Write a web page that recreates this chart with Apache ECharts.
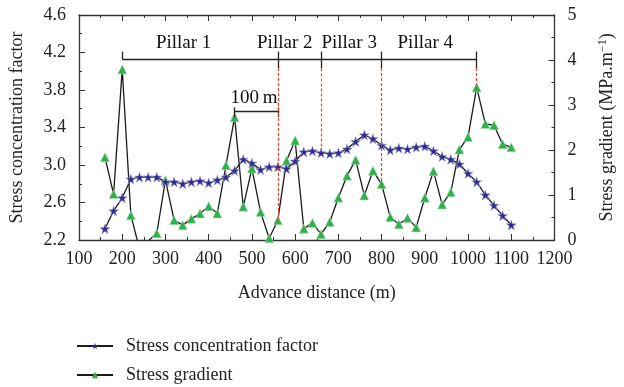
<!DOCTYPE html>
<html>
<head>
<meta charset="utf-8">
<script src="https://cdn.jsdelivr.net/npm/echarts@6/dist/echarts.min.js"></script>
<style>
  html, body { margin: 0; padding: 0; background: #fff; }
  #chart { width: 624px; height: 387px; }
</style>
</head>
<body>
<div id="chart"></div>
<script>
// advance distance (m)
const distance = [160, 180, 200, 220, 240, 260, 280, 300, 320, 340, 360, 380, 400, 420, 440, 460,
  480, 500, 520, 540, 560, 580, 600, 620, 640, 660, 680, 700, 720, 740, 760, 780,
  800, 820, 840, 860, 880, 900, 920, 940, 960, 980, 1000, 1020, 1040, 1060, 1080, 1100]

const concFactor = [2.32, 2.51, 2.65, 2.85, 2.87, 2.87, 2.87, 2.82, 2.82, 2.80, 2.82, 2.83, 2.81, 2.84, 2.87, 2.94,
  3.06, 3.02, 2.95, 2.98, 2.98, 2.96, 3.04, 3.14, 3.15, 3.13, 3.12, 3.13, 3.17, 3.25, 3.32, 3.28,
  3.21, 3.16, 3.18, 3.17, 3.19, 3.20, 3.15, 3.09, 3.06, 3.01, 2.91, 2.82, 2.68, 2.57, 2.46, 2.36]

const stressGradient = [1.84, 1.02, 3.79, 0.55, -0.2, -0.02, 0.15, 1.33, 0.44, 0.33, 0.47, 0.59, 0.75, 0.59, 1.66, 2.73,
  0.74, 1.59, 0.62, 0.04, 0.44, 1.76, 2.21, 0.25, 0.38, 0.13, 0.40, 0.94, 1.43, 1.78, 0.99, 1.54,
  1.24, 0.51, 0.35, 0.49, 0.28, 0.94, 1.53, 0.79, 1.06, 2.01, 2.29, 3.39, 2.58, 2.55, 2.13, 2.06]

const leftTicks = [2.2, 2.6, 3.0, 3.4, 3.8, 4.2, 4.6]
const leftMinorTicks = [2.4, 2.8, 3.2, 3.6, 4.0, 4.4]

// pillar boundaries and labels
const pillarBounds = [200, 560, 660, 800, 1020]
const pillarNames = ["Pillar 1", "Pillar 2", "Pillar 3", "Pillar 4"]
const pillarLabelX = [342, 576, 725, 901]
const pillarLabelY = 4.3
const bracketY = 4.13
const bracketTop = 4.21
const bracketBottom = 4.03
const dashTopGradient = 3.82

// 100 m scale bar
const scaleBar = [460, 560]
const scaleBarY = 3.57
const scaleLabel = { x: 505, y: 3.71, text: "100\u2009m" }

const FONT = "Liberation Serif"
const AXIS_COLOR = "#333"

const chart = echarts.init(document.getElementById("chart"), null, { renderer: "canvas" })

const idx = (x) => distance.indexOf(x)

// bracket + scale bar lines (left axis units)
const blackLine = { color: "#222", width: 1.3, type: "solid" }
const redDash = { color: "#f0402a", width: 1.2, type: [3, 2] }
const leftMarks = [
  [{ coord: [pillarBounds[0], bracketY] }, { coord: [pillarBounds[4], bracketY] }],
  [{ coord: [pillarBounds[0], bracketTop] }, { coord: [pillarBounds[0], bracketY] }],
]
pillarBounds.slice(1).forEach((x) => {
  leftMarks.push([{ coord: [x, bracketTop] }, { coord: [x, bracketBottom] }])
})
leftMarks.push([{ coord: [scaleBar[0], scaleBarY] }, { coord: [scaleBar[1], scaleBarY] }])
leftMarks.push([{ coord: [scaleBar[0], scaleBarY + 0.045] }, { coord: [scaleBar[0], scaleBarY - 0.06] }])
leftMarks.push([{ coord: [scaleBar[1], scaleBarY + 0.045] }, { coord: [scaleBar[1], scaleBarY - 0.06] }])
leftMarks.forEach((m) => { m[0].lineStyle = blackLine })
// red dashed line at 660 ends on the factor curve
leftMarks.push([
  { coord: [660, bracketBottom], lineStyle: redDash },
  { coord: [660, concFactor[idx(660)]] },
])

// red dashed lines ending on the gradient curve
const rightMarks = [560, 800, 1020].map((x) => [
  { coord: [x, dashTopGradient], lineStyle: redDash },
  { coord: [x, stressGradient[idx(x)]] },
])

const textStyle = { fontFamily: FONT, fontSize: 18, color: "#222" }

const starPath = "path://M50,0 L61.8,35.1 L98.9,35.1 L69.1,56.7 L80.3,91.9 L50,70.2 L19.7,91.9 L30.9,56.7 L1.1,35.1 L38.2,35.1 Z"

const option = {
  animation: false,
  backgroundColor: "#fff",
  grid: { left: 77, right: 61, top: 15, bottom: 147 },
  legend: {
    orient: "vertical",
    left: 76,
    top: 337,
    height: 60,
    padding: 0,
    itemWidth: 36,
    itemHeight: 8,
    itemGap: 11,
    data: [
      { name: "Stress concentration factor", itemStyle: { color: "#2f2c8f", borderWidth: 0 } },
      { name: "Stress gradient", itemStyle: { color: "#2fb04a", borderWidth: 0 } },
    ],
    textStyle: { ...textStyle, padding: [0, 0, 0, 8] },
  },
  xAxis: [
    {
      type: "value",
      min: 100,
      max: 1200,
      interval: 100,
      name: "Advance distance (m)",
      nameLocation: "middle",
      nameGap: 44,
      nameTextStyle: textStyle,
      axisLine: { lineStyle: { color: AXIS_COLOR, width: 1.3 } },
      axisTick: { inside: true, length: 6, lineStyle: { color: AXIS_COLOR } },
      minorTick: { show: true, splitNumber: 2, length: 3, lineStyle: { color: AXIS_COLOR } },
      axisLabel: { ...textStyle, margin: 10, formatter: (v) => String(v) },
      splitLine: { show: false },
    },
    {
      type: "value",
      position: "top",
      min: 100,
      max: 1200,
      interval: 100,
      axisLine: { lineStyle: { color: AXIS_COLOR, width: 1.3 } },
      axisTick: { inside: true, length: 6, lineStyle: { color: AXIS_COLOR } },
      minorTick: { show: true, splitNumber: 2, length: 3, lineStyle: { color: AXIS_COLOR } },
      axisLabel: { show: false },
      splitLine: { show: false },
    },
  ],
  yAxis: [
    {
      type: "value",
      min: 2.2,
      max: 4.6,
      name: "Stress concentration factor",
      nameLocation: "middle",
      nameGap: 53,
      nameTextStyle: textStyle,
      axisLine: { show: true, lineStyle: { color: AXIS_COLOR, width: 1.3 } },
      axisTick: { inside: true, length: 6, customValues: leftTicks, lineStyle: { color: AXIS_COLOR } },
      axisLabel: { ...textStyle, margin: 13, customValues: leftTicks, formatter: (v) => v.toFixed(1) },
      splitLine: { show: false },
    },
    {
      type: "value",
      position: "right",
      min: 0,
      max: 5,
      interval: 1,
      name: "Stress gradient (MPa.m{sup|\u22121})",
      nameLocation: "middle",
      nameGap: 42,
      nameTextStyle: {
        ...textStyle,
        rich: { sup: { fontFamily: FONT, fontSize: 12, color: "#222", padding: [0, 0, 9, 0] } },
      },
      axisLine: { show: true, lineStyle: { color: AXIS_COLOR, width: 1.3 } },
      axisTick: { inside: true, length: 6, lineStyle: { color: AXIS_COLOR } },
      minorTick: { show: true, splitNumber: 2, length: 3, lineStyle: { color: AXIS_COLOR } },
      axisLabel: { ...textStyle, margin: 13 },
      splitLine: { show: false },
    },
    {
      // minor ticks for the left axis
      type: "value",
      position: "left",
      min: 2.2,
      max: 4.6,
      axisLine: { show: false },
      axisTick: { show: true, inside: true, length: 3, customValues: leftMinorTicks, lineStyle: { color: AXIS_COLOR } },
      axisLabel: { show: false },
      splitLine: { show: false },
    },
  ],
  series: [
    {
      name: "Stress concentration factor",
      type: "line",
      xAxisIndex: 0,
      yAxisIndex: 0,
      data: distance.map((x, i) => [x, concFactor[i]]),
      symbol: starPath,
      symbolSize: 10,
      lineStyle: { color: "#1a1a1a", width: 1.3 },
      itemStyle: { color: "#2f2c8f", borderColor: "#a7a5d8", borderWidth: 0.6 },
      markLine: { silent: true, symbol: "none", label: { show: false }, data: leftMarks },
      z: 3,
    },
    {
      name: "Stress gradient",
      type: "line",
      xAxisIndex: 0,
      yAxisIndex: 1,
      data: distance.map((x, i) => [x, stressGradient[i]]),
      symbol: "triangle",
      symbolSize: 9,
      lineStyle: { color: "#1a1a1a", width: 1.3 },
      itemStyle: { color: "#2fb04a", borderColor: "#a8dcb0", borderWidth: 0.6 },
      markLine: { silent: true, symbol: "none", label: { show: false }, data: rightMarks },
      z: 2,
    },
    {
      name: "labels",
      type: "scatter",
      xAxisIndex: 0,
      yAxisIndex: 0,
      symbolSize: 0,
      silent: true,
      itemStyle: { opacity: 1 },
      data: pillarNames.map((n, i) => ({ name: n, value: [pillarLabelX[i], pillarLabelY] }))
        .concat([{ name: scaleLabel.text, value: [scaleLabel.x, scaleLabel.y] }]),
      label: {
        show: true,
        position: "inside",
        formatter: "{b}",
        fontFamily: FONT,
        fontSize: 19,
        color: "#111",
        textBorderWidth: 0,
      },
    },
  ],
}

chart.setOption(option)
</script>
</body>
</html>
